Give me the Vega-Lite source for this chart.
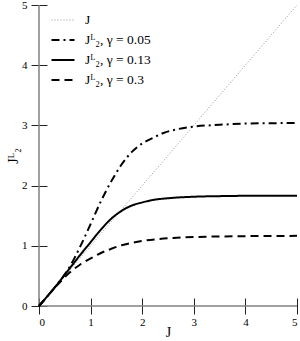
{
  "$schema": "https://vega.github.io/schema/vega-lite/v6.json",
  "width": 258,
  "height": 301,
  "autosize": {"type": "none"},
  "padding": {"left": 39, "top": 5, "right": 3, "bottom": 35},
  "background": "white",
  "config": {
    "view": {"stroke": null},
    "font": "Liberation Serif",
    "axis": {"labelFont": "Liberation Serif", "titleFont": "Liberation Serif"},
    "legend": {"labelFont": "Liberation Serif"}
  },
  "datasets": {
    "curves": [
      {"s": "J", "x": 0, "y": 0}, {"s": "J", "x": 5, "y": 5},
      {"s": "g05", "x": 0, "y": 0}, {"s": "g05", "x": 0.2, "y": 0.2}, {"s": "g05", "x": 0.4, "y": 0.41}, {"s": "g05", "x": 0.6, "y": 0.66}, {"s": "g05", "x": 0.8, "y": 0.99}, {"s": "g05", "x": 1.0, "y": 1.36}, {"s": "g05", "x": 1.2, "y": 1.74}, {"s": "g05", "x": 1.4, "y": 2.07}, {"s": "g05", "x": 1.6, "y": 2.35}, {"s": "g05", "x": 1.8, "y": 2.56}, {"s": "g05", "x": 2.0, "y": 2.70}, {"s": "g05", "x": 2.2, "y": 2.79}, {"s": "g05", "x": 2.4, "y": 2.87}, {"s": "g05", "x": 2.7, "y": 2.94}, {"s": "g05", "x": 3.0, "y": 2.98}, {"s": "g05", "x": 3.5, "y": 3.01}, {"s": "g05", "x": 4.0, "y": 3.03}, {"s": "g05", "x": 5.0, "y": 3.04},
      {"s": "g13", "x": 0, "y": 0}, {"s": "g13", "x": 0.2, "y": 0.2}, {"s": "g13", "x": 0.4, "y": 0.41}, {"s": "g13", "x": 0.6, "y": 0.63}, {"s": "g13", "x": 0.8, "y": 0.85}, {"s": "g13", "x": 1.0, "y": 1.06}, {"s": "g13", "x": 1.2, "y": 1.27}, {"s": "g13", "x": 1.4, "y": 1.45}, {"s": "g13", "x": 1.6, "y": 1.58}, {"s": "g13", "x": 1.8, "y": 1.67}, {"s": "g13", "x": 2.0, "y": 1.72}, {"s": "g13", "x": 2.2, "y": 1.76}, {"s": "g13", "x": 2.5, "y": 1.79}, {"s": "g13", "x": 3.0, "y": 1.815}, {"s": "g13", "x": 3.5, "y": 1.825}, {"s": "g13", "x": 4.0, "y": 1.83}, {"s": "g13", "x": 5.0, "y": 1.83},
      {"s": "g30", "x": 0, "y": 0}, {"s": "g30", "x": 0.2, "y": 0.2}, {"s": "g30", "x": 0.4, "y": 0.39}, {"s": "g30", "x": 0.6, "y": 0.56}, {"s": "g30", "x": 0.8, "y": 0.69}, {"s": "g30", "x": 1.0, "y": 0.79}, {"s": "g30", "x": 1.2, "y": 0.88}, {"s": "g30", "x": 1.4, "y": 0.95}, {"s": "g30", "x": 1.6, "y": 1.01}, {"s": "g30", "x": 1.8, "y": 1.05}, {"s": "g30", "x": 2.0, "y": 1.08}, {"s": "g30", "x": 2.3, "y": 1.11}, {"s": "g30", "x": 2.6, "y": 1.13}, {"s": "g30", "x": 3.0, "y": 1.145}, {"s": "g30", "x": 3.5, "y": 1.155}, {"s": "g30", "x": 4.0, "y": 1.16}, {"s": "g30", "x": 5.0, "y": 1.165}
    ],
    "axes": [{"v": 0}]
  },
  "layer": [
    {
      "data": {"name": "axes"},
      "mark": {"type": "rule", "color": "#808080", "strokeWidth": 1.5},
      "encoding": {"x": {"field": "v", "type": "quantitative", "scale": {"domain": [0, 5]}}}
    },
    {
      "data": {"name": "axes"},
      "mark": {"type": "rule", "color": "#808080", "strokeWidth": 1.5},
      "encoding": {"y": {"field": "v", "type": "quantitative", "scale": {"domain": [0, 5]}}}
    },
    {
      "data": {"name": "curves"},
      "mark": {"type": "line", "interpolate": "monotone"},
      "encoding": {
        "x": {"field": "x", "type": "quantitative", "scale": {"domain": [0, 5], "nice": false, "zero": false},
          "axis": {"title": "J", "values": [0, 1, 2, 3, 4, 5], "format": "d", "grid": false, "domain": false, "offset": -8, "tickSize": 16, "tickColor": "#222", "tickWidth": 1, "labelFont": "Liberation Serif", "labelFontSize": 11, "labelColor": "black", "labelPadding": 2, "titleFont": "Liberation Serif", "titleFontSize": 14, "titleFontWeight": "normal", "titleColor": "black", "titlePadding": -2}},
        "y": {"field": "y", "type": "quantitative", "scale": {"domain": [0, 5], "nice": false, "zero": false},
          "axis": {"title": "Jᴸ₂", "values": [0, 1, 2, 3, 4, 5], "format": "d", "grid": false, "domain": false, "offset": -8, "tickSize": 16, "tickColor": "#222", "tickWidth": 1, "labelFont": "Liberation Serif", "labelFontSize": 11, "labelColor": "black", "labelPadding": 4, "titleFont": "Liberation Serif", "titleFontSize": 14, "titleFontWeight": "normal", "titleColor": "black", "titlePadding": 1}},
        "strokeDash": {"field": "s", "type": "nominal", "scale": {"type": "ordinal", "domain": ["J", "g05", "g13", "g30"], "range": [[1, 2], [8, 4, 2, 4], [1, 0], [8, 5]]},
          "legend": {"title": null, "orient": "none", "legendX": 11, "legendY": 3, "symbolType": "stroke", "symbolSize": 530, "labelFont": "Liberation Serif", "labelFontSize": 13.5, "labelColor": "black", "rowPadding": -2, "labelOffset": 9, "padding": 0,
            "labelExpr": "datum.value == 'J' ? 'J' : datum.value == 'g05' ? 'Jᴸ₂, γ = 0.05' : datum.value == 'g13' ? 'Jᴸ₂, γ = 0.13' : 'Jᴸ₂, γ = 0.3'"}},
        "color": {"field": "s", "type": "nominal", "scale": {"type": "ordinal", "domain": ["J", "g05", "g13", "g30"], "range": ["#777777", "black", "black", "black"]}},
        "strokeWidth": {"field": "s", "type": "nominal", "scale": {"type": "ordinal", "domain": ["J", "g05", "g13", "g30"], "range": [0.8, 2, 2, 2]}}
      }
    }
  ]
}
